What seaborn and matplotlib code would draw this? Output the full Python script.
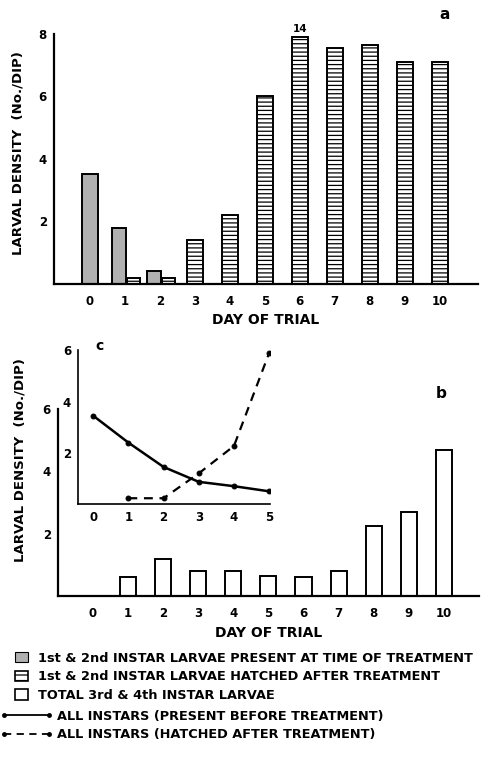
import matplotlib
matplotlib.use("Agg")
import matplotlib.pyplot as plt
import matplotlib.patches as mpatches
from matplotlib.lines import Line2D
import seaborn as sns
import pandas as pd

# panel a : 1st & 2nd instar larvae
present_days = [0, 1, 2]
present_vals = [3.5, 1.8, 0.4]
hatched_days = [1, 2, 3, 4, 5, 6, 7, 8, 9, 10]
hatched_vals = [0.2, 0.2, 1.4, 2.2, 6.0, 14, 7.55, 7.65, 7.1, 7.1]

# panel b : total 3rd & 4th instar larvae
total_days = [1, 2, 3, 4, 5, 6, 7, 8, 9, 10]
total_vals = [0.6, 1.2, 0.8, 0.8, 0.65, 0.6, 0.8, 2.25, 2.7, 4.7]

# inset c : all instars
before_days = [0, 1, 2, 3, 4, 5]
before_vals = [3.45, 2.4, 1.45, 0.87, 0.7, 0.5]
after_days = [1, 2, 3, 4, 5]
after_vals = [0.23, 0.23, 1.2, 2.27, 5.9]

day_ticks = list(range(11))

sns.set_style("ticks")
plt.rcParams['font.family'] = ['DejaVu Sans']
plt.rcParams['font.weight'] = 'bold'
plt.rcParams['text.color'] = 'black'
plt.rcParams['axes.labelcolor'] = 'black'
plt.rcParams['hatch.linewidth'] = 0.9

GREY = '#b0b0b0'
fig = plt.figure(figsize=(4.94, 7.65), dpi=100)

def style_axes(ax, yticks):
    sns.despine(ax=ax)
    for s in ['left', 'bottom']:
        ax.spines[s].set_linewidth(1.6)
        ax.spines[s].set_color('black')
    ax.set_yticks(yticks)
    ax.tick_params(length=0, labelsize=8.5, pad=5, colors='black')
    for t in ax.get_xticklabels() + ax.get_yticklabels():
        t.set_fontweight('bold')

# ---- panel a
axa = fig.add_axes([0.109, 0.629, 0.859, 0.327])
paired = set(present_days) & set(hatched_days)
px = [d - 0.17 if d in paired else d for d in present_days]
hx = [d + 0.25 if d in paired else d for d in hatched_days]
pw = [0.42 if d in paired else 0.46 for d in present_days]
hw = [0.38 if d in paired else 0.46 for d in hatched_days]
YCAP = 7.9
axa.bar(px, present_vals, width=pw, color=GREY, edgecolor='black', linewidth=1.4)
axa.bar(hx, [min(v, YCAP) for v in hatched_vals], width=hw, color='white',
        edgecolor='black', linewidth=1.4, hatch='----')
for d, v in zip(hatched_days, hatched_vals):
    if v > YCAP:
        axa.text(d, YCAP + 0.1, f'{v:g}', ha='center', va='bottom', fontsize=7.5, fontweight='bold')
axa.set_xlim(-1.03, 11.1)
axa.set_ylim(0, 8)
axa.set_xticks(day_ticks)
style_axes(axa, [2, 4, 6, 8])
axa.tick_params(axis='x', pad=8)
axa.set_xlabel('DAY OF TRIAL', fontsize=10, fontweight='bold', labelpad=4)
axa.text(0.92, 1.06, 'a', transform=axa.transAxes, fontsize=11, fontweight='bold', ha='center')
fig.text(0.037, 0.80, 'LARVAL DENSITY  (No./DIP)', rotation=90, ha='center', va='center',
         fontsize=9.5, fontweight='bold')

# ---- panel b
axb = fig.add_axes([0.117, 0.221, 0.853, 0.244])
dfb = pd.DataFrame({'day': total_days, 'val': total_vals})
sns.barplot(data=dfb, x='day', y='val', native_scale=True, width=0.46, color='white',
            saturation=1, edgecolor='black', linewidth=1.4, errorbar=None, ax=axb)
axb.set_xlim(-0.99, 11.0)
axb.set_ylim(0, 6)
axb.set_xticks(day_ticks)
axb.set_ylabel('')
style_axes(axb, [2, 4, 6])
axb.tick_params(axis='x', pad=8)
axb.set_xlabel('DAY OF TRIAL', fontsize=10, fontweight='bold', labelpad=4)
axb.text(0.91, 1.06, 'b', transform=axb.transAxes, fontsize=11, fontweight='bold', ha='center')
fig.text(0.041, 0.398, 'LARVAL DENSITY  (No./DIP)', rotation=90, ha='center', va='center',
         fontsize=9.5, fontweight='bold')

# ---- inset c
axc = fig.add_axes([0.158, 0.341, 0.389, 0.201])
axc.patch.set_alpha(0)
sns.lineplot(x=before_days, y=before_vals, color='black', linewidth=1.8, marker='o',
             markersize=3.5, markeredgecolor='black', ax=axc)
sns.lineplot(x=after_days, y=after_vals, color='black', linewidth=1.6, marker='o',
             markersize=3.5, markeredgecolor='black', linestyle=(0, (4, 3)), ax=axc)
axc.set_xlim(-0.43, 5.03)
axc.set_ylim(0, 6)
axc.set_xticks(range(6))
style_axes(axc, [2, 4, 6])
for s in ['left', 'bottom']:
    axc.spines[s].set_linewidth(1.2)
axc.text(0.11, 1.0, 'c', transform=axc.transAxes, fontsize=10, fontweight='bold', ha='center')

# ---- legends
patch_handles = [
    mpatches.Patch(facecolor=GREY, edgecolor='black', linewidth=0.8),
    mpatches.Patch(facecolor='white', edgecolor='black', hatch='---', linewidth=1.2),
    mpatches.Patch(facecolor='white', edgecolor='black', linewidth=1.2),
]
patch_labels = ['1st & 2nd INSTAR LARVAE PRESENT AT TIME OF TREATMENT',
                '1st & 2nd INSTAR LARVAE HATCHED AFTER TREATMENT',
                'TOTAL 3rd & 4th INSTAR LARVAE']
leg1 = fig.legend(patch_handles, patch_labels, loc='upper left', bbox_to_anchor=(0.03, 0.148),
                  frameon=False, fontsize=9.3, handlelength=1.05, handleheight=0.85,
                  handletextpad=0.75, labelspacing=0.43, borderaxespad=0, borderpad=0)
line_handles = [
    Line2D([], [], color='black', lw=1.3, marker='o', ms=2.5),
    Line2D([], [], color='black', lw=1.3, ls=(0, (4, 3)), marker='o', ms=2.5),
]
line_labels = ['ALL INSTARS (PRESENT BEFORE TREATMENT)',
               'ALL INSTARS (HATCHED AFTER TREATMENT)']
leg2 = fig.legend(line_handles, line_labels, loc='upper left', bbox_to_anchor=(0.0, 0.072),
                  frameon=False, fontsize=9.3, handlelength=4.1, numpoints=2,
                  handletextpad=0.3, labelspacing=0.4, borderaxespad=0, borderpad=0)
for t in leg1.get_texts() + leg2.get_texts():
    t.set_fontweight('bold')

fig.savefig('out.png', dpi=100, facecolor='white')
